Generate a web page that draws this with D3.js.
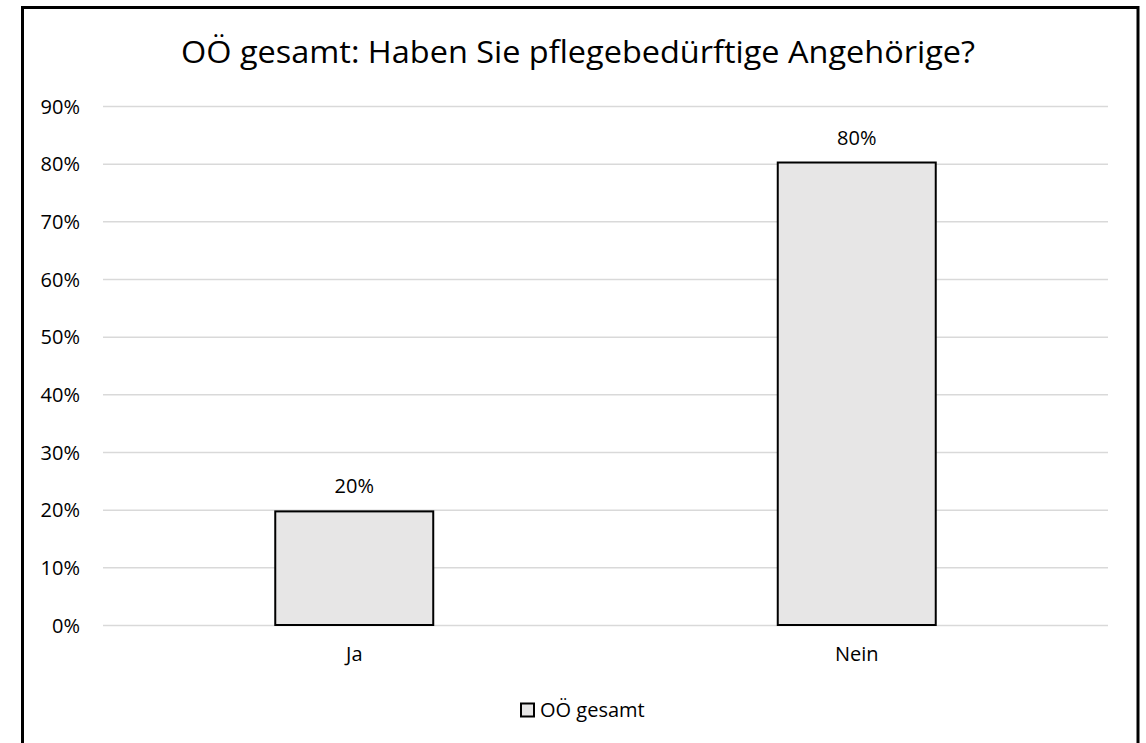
<!DOCTYPE html>
<html>
<head>
<meta charset="utf-8">
<script src="https://cdn.jsdelivr.net/npm/d3@7"></script>
<style>
  html, body { margin: 0; padding: 0; background: #fff; }
  svg { display: block; font-family: "Open Sans", sans-serif; }
</style>
</head>
<body>
<svg id="chart" width="1146" height="743"></svg>
<script>
const title = "OÖ gesamt: Haben Sie pflegebedürftige Angehörige?";
const categories = ["Ja", "Nein"];
const values = [0.197, 0.802];
const valueLabels = ["20%", "80%"];
const seriesName = "OÖ gesamt";
const yTicks = [0, 0.1, 0.2, 0.3, 0.4, 0.5, 0.6, 0.7, 0.8, 0.9];

const FONT = "'Open Sans', sans-serif";
const svg = d3.select("#chart");
const plot = { left: 103, right: 1108, top: 106, bottom: 625 };

// outer frame
svg.append("rect")
  .attr("x", 22.5).attr("y", 7.5)
  .attr("width", 1138 - 22.5).attr("height", 770)
  .attr("fill", "#fff").attr("stroke", "#000").attr("stroke-width", 3);

const x = d3.scaleBand().domain(categories).range([plot.left, plot.right]).padding(0);
const barW = x.step() * 0.3144;
const y = d3.scaleLinear().domain([0, 0.9]).range([plot.bottom, plot.top]);

// gridlines + y labels
const yAxis = d3.axisLeft(y).tickValues(yTicks).tickFormat(d3.format(".0%"))
  .tickSize(-(plot.right - plot.left)).tickPadding(23);
const gy = svg.append("g").attr("transform", `translate(${plot.left},0)`).call(yAxis);
gy.select(".domain").remove();
gy.selectAll(".tick line").attr("stroke", "#d9d9d9").attr("stroke-width", 1.5);
gy.selectAll(".tick text").attr("fill", "#000").attr("font-size", 20)
  .attr("font-family", FONT).attr("dy", "0.36em");

// bars
svg.append("g").selectAll("rect").data(categories).join("rect")
  .attr("x", (d) => x(d) + x.bandwidth() / 2 - barW / 2)
  .attr("y", (d, i) => y(values[i]))
  .attr("width", barW)
  .attr("height", (d, i) => y(0) - y(values[i]))
  .attr("fill", "#e7e6e6").attr("stroke", "#000").attr("stroke-width", 2);

// value labels
svg.append("g").selectAll("text").data(categories).join("text")
  .attr("x", (d) => x(d) + x.bandwidth() / 2)
  .attr("y", (d, i) => y(values[i]) - 18)
  .attr("text-anchor", "middle").attr("font-size", 20).attr("fill", "#000")
  .attr("font-family", FONT)
  .text((d, i) => valueLabels[i]);

// x axis labels
const xAxis = d3.axisBottom(x).tickSize(0).tickPadding(22);
const gx = svg.append("g").attr("transform", `translate(0,${plot.bottom})`).call(xAxis);
gx.select(".domain").remove();
gx.selectAll(".tick text").attr("fill", "#000").attr("font-size", 20).attr("font-family", FONT);

// title
svg.append("text")
  .attr("x", 578).attr("y", 63)
  .attr("text-anchor", "middle").attr("font-size", 31).attr("fill", "#000")
  .attr("font-family", FONT)
  .attr("textLength", 794).attr("lengthAdjust", "spacingAndGlyphs")
  .text(title);

// legend
svg.append("rect").attr("x", 521).attr("y", 703.5).attr("width", 13).attr("height", 13)
  .attr("fill", "#e7e6e6").attr("stroke", "#000").attr("stroke-width", 2);
svg.append("text").attr("x", 540).attr("y", 717).attr("font-size", 20).attr("fill", "#000")
  .attr("font-family", FONT)
  .text(seriesName);
</script>
</body>
</html>
